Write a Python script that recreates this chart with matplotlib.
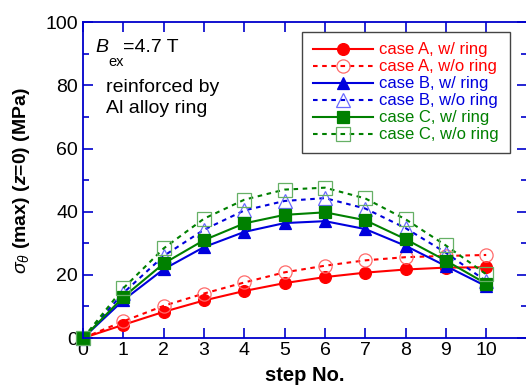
import numpy as np
import matplotlib.pyplot as plt
from matplotlib.ticker import MultipleLocator

plt.rcParams.update({
    "font.family": ["Liberation Sans", "DejaVu Sans"],
    "mathtext.fontset": "custom",
    "mathtext.it": "Liberation Sans:italic",
    "mathtext.rm": "Liberation Sans",
    "mathtext.bf": "Liberation Sans:bold:italic",
})

steps = np.arange(0, 11)

a_ring = [0, 4.2, 8.3, 11.9, 14.9, 17.4, 19.3, 20.7, 21.7, 22.3, 22.4]
a_noring = [0, 5.3, 10.2, 14.1, 17.6, 20.8, 22.9, 24.6, 25.6, 26.0, 26.3]
b_ring = [0, 12.0, 21.8, 28.8, 33.6, 36.4, 37.0, 34.5, 29.2, 22.8, 16.4]
b_noring = [0, 14.3, 26.0, 34.3, 40.4, 43.4, 44.3, 41.0, 34.8, 27.0, 18.0]
c_ring = [0, 13.0, 23.6, 31.0, 36.3, 39.0, 39.8, 37.3, 31.3, 24.5, 17.2]
c_noring = [0, 15.8, 28.4, 37.8, 43.8, 47.0, 47.6, 44.2, 37.6, 29.3, 20.2]

RED, BLUE, GREEN = "#ff0000", "#0000dd", "#008000"
RED_L, BLUE_L, GREEN_L = "#ff6a6a", "#6a6aff", "#66b066"
DASH = (0, (2.2, 2.2))

fig = plt.figure(figsize=(5.26, 3.89), dpi=100)
ax = fig.add_axes([0.158, 0.131, 0.843, 0.812])

series = [
    (a_ring, "case A, w/ ring", RED, "-", "o", RED, RED, 8.5),
    (a_noring, "case A, w/o ring", RED, DASH, "o", "none", RED_L, 9.5),
    (b_ring, "case B, w/ ring", BLUE, "-", "^", BLUE, BLUE, 8.5),
    (b_noring, "case B, w/o ring", BLUE, DASH, "^", "none", BLUE_L, 9.5),
    (c_ring, "case C, w/ ring", GREEN, "-", "s", GREEN, GREEN, 8.0),
    (c_noring, "case C, w/o ring", GREEN, DASH, "s", "none", GREEN_L, 9.5),
]
for vals, label, col, ls, mk, mfc, mec, ms in series:
    ax.plot(steps, vals, color=col, linestyle=ls, linewidth=1.5, marker=mk,
            markerfacecolor=mfc, markeredgecolor=mec, markeredgewidth=0.9,
            markersize=ms, label=label, clip_on=False)

ax.set_xlim(0, 11)
ax.set_ylim(0, 100)
ax.set_xticks(range(0, 11))
ax.yaxis.set_major_locator(MultipleLocator(20))
ax.yaxis.set_minor_locator(MultipleLocator(10))
ax.tick_params(which="both", direction="in", top=True, right=True,
               color="#0000cc", labelsize=14, width=1.2)
ax.tick_params(which="major", length=7)
ax.tick_params(which="minor", length=4)
ax.tick_params(axis="x", pad=3)
for s in ax.spines.values():
    s.set_color("#0000cc")
    s.set_linewidth(1.3)

ax.set_xlabel("step No.", fontsize=14.5, fontweight="bold", labelpad=5)
ax.set_ylabel(r"$\sigma_{\theta}$ (max) ($\mathbf{z}$=0) (MPa)", fontsize=14,
              fontweight="bold", labelpad=10)

# B_ex label built from pieces so the subscript sits low as in the original
ax.text(0.3, 90.5, "B", fontsize=14, fontstyle="italic")
ax.text(0.63, 86.0, "ex", fontsize=10.5)
ax.text(0.98, 90.5, "=4.7 T", fontsize=14)
ax.text(0.57, 77.8, "reinforced by", fontsize=14)
ax.text(0.57, 71.3, "Al alloy ring", fontsize=14)

leg = ax.legend(loc="upper right", bbox_to_anchor=(0.962, 0.97), fontsize=12,
                handlelength=3.6, handletextpad=0.4, labelspacing=0.12,
                borderpad=0.65, borderaxespad=0, fancybox=False, framealpha=1)
leg.get_frame().set_edgecolor("#444444")
leg.get_frame().set_linewidth(1.0)
for txt, s in zip(leg.get_texts(), series):
    txt.set_color(s[2])

fig.savefig("out.png", dpi=100, facecolor="white")
